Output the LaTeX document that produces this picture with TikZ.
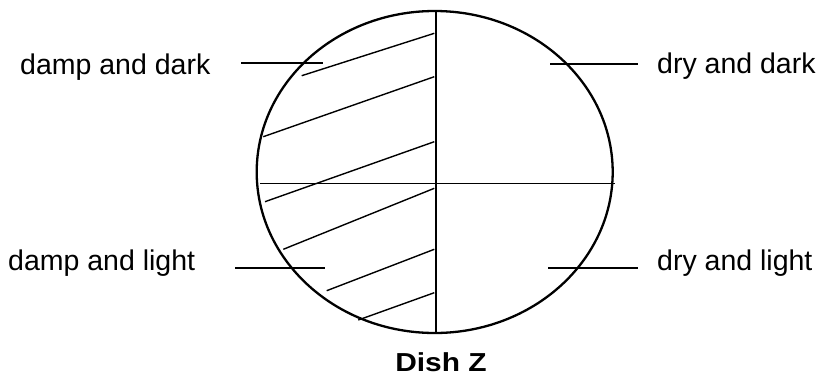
\documentclass[tikz,border=0pt]{standalone}
\usepackage{fontspec}
\setmainfont{Liberation Sans}
\usetikzlibrary{shapes.geometric}
\begin{document}
\begin{tikzpicture}[x=1pt,y=-1pt,
  lbl/.style={font=\fontsize{28.5}{34}\selectfont, inner sep=0pt, anchor=base west},
  rim/.style={line width=2.3pt},
  hatch/.style={line width=1.4pt},
  lead/.style={line width=1.4pt}]
\useasboundingbox (0,0) rectangle (820,378);
% dish outline
\node[draw, ellipse, rim, minimum width=356pt, minimum height=322pt, inner sep=0pt] (dish) at (434.7,172) {};
% dividers
\coordinate (vt) at (436,11);
\coordinate (vb) at (436,333);
\coordinate (hl) at (260,183.3);
\coordinate (hr) at (615,183.3);
\draw[rim] (vt) -- (vb);
\draw[lead] (hl) -- (hr);
% hatching of the damp half
\draw[hatch] (301.7,75.7) -- (434.3,33.3);
\draw[hatch] (263.3,136.7) -- (434.3,76.7);
\draw[hatch] (265,201.7) -- (434.3,141.7);
\draw[hatch] (283.3,249.3) -- (434.3,188.3);
\draw[hatch] (326.7,290.7) -- (434.3,249.3);
\draw[hatch] (358.3,320) -- (434.3,292.7);
% labels
\node[lbl] (ddk) at (20,74) {damp and dark};
\node[lbl] (ydk) at (657,73) {dry and dark};
\node[lbl] (dlt) at (8,270) {damp and light};
\node[lbl] (ylt) at (657,270) {dry and light};
\node[inner sep=0pt, anchor=base, font=\fontsize{26}{30}\selectfont\bfseries] (cap) at (441,371.5) {\scalebox{1.15}[1]{Dish Z}};
% leader lines
\coordinate (a1) at (241,63);  \coordinate (a2) at (323,63);
\coordinate (b1) at (550,64);  \coordinate (b2) at (638,64);
\coordinate (c1) at (235,268); \coordinate (c2) at (325,268);
\coordinate (d1) at (548,268); \coordinate (d2) at (638,268);
\draw[lead] (a1) -- (a2);
\draw[lead] (b1) -- (b2);
\draw[lead] (c1) -- (c2);
\draw[lead] (d1) -- (d2);
\end{tikzpicture}
\end{document}
